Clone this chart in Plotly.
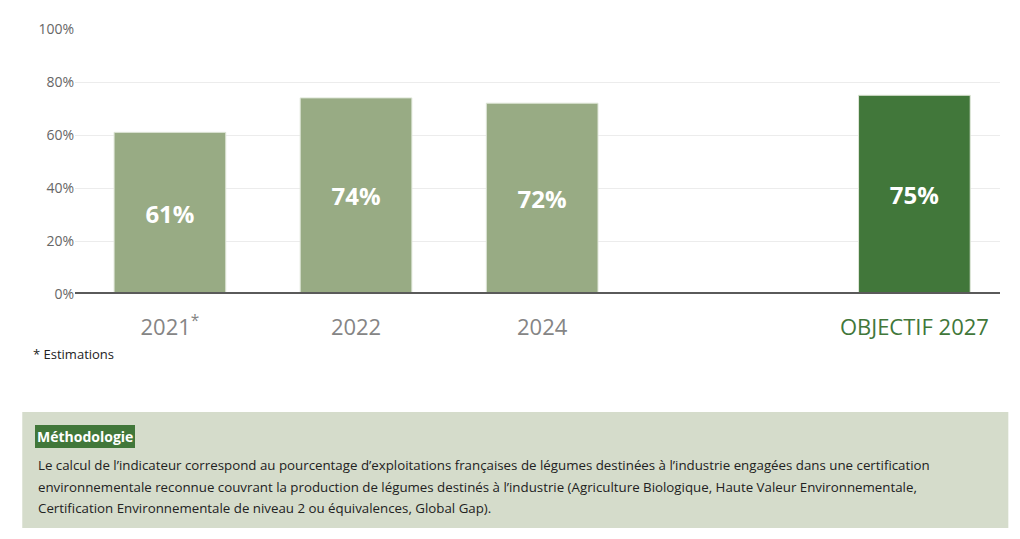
import plotly.graph_objects as go

positions = [0, 1, 2, 4]
tick_labels = ["2021<sup>*</sup>", "2022", "2024", "<span style='color:#41773a'>OBJECTIF 2027</span>"]
values = [61, 74, 72, 75]
bar_colors = ["#98ab84", "#98ab84", "#98ab84", "#41773a"]
y_ticks = [0, 20, 40, 60, 80, 100]
method_lines = [
    "Le calcul de l’indicateur correspond au pourcentage d’exploitations françaises de légumes destinées à l’industrie engagées dans une certification",
    "environnementale reconnue couvrant la production de légumes destinés à l’industrie (Agriculture Biologique, Haute Valeur Environnementale,",
    "Certification Environnementale de niveau 2 ou équivalences, Global Gap).",
]

fig = go.Figure(go.Bar(
    x=positions, y=values, width=0.6,
    marker=dict(color=bar_colors, line=dict(color="#dfe6d8", width=1)),
    text=[f"<b>{v}%</b>" for v in values], textposition="inside", insidetextanchor="middle",
    textfont=dict(family="Open Sans", size=24, color="white"),
))

# page body adds an 8px margin, so margins are reduced by 8
fig.update_layout(
    width=1020, height=539, plot_bgcolor="white", paper_bgcolor="white",
    margin=dict(l=67, r=28, t=21, b=253, autoexpand=False), showlegend=False,
    font=dict(family="Open Sans"),
    xaxis=dict(range=[-0.51, 4.46], tickvals=positions, ticktext=tick_labels,
               showgrid=False, zeroline=False, ticks="", ticklen=0,
               ticklabelstandoff=18,
               tickfont=dict(size=22, color="#858585")),
    yaxis=dict(range=[0, 100], tickvals=y_ticks, ticktext=[f"{v}%" for v in y_ticks],
               gridcolor="#ececec", zeroline=False,
               tickfont=dict(size=14, color="#666")),
)
fig.add_shape(type="line", xref="paper", yref="y", x0=0, x1=1, y0=0, y1=0,
              line=dict(color="#5a5a5a", width=4))
fig.add_shape(type="rect", xref="paper", yref="paper", x0=-0.057, x1=1.009,
              y0=-0.883, y1=-0.445, fillcolor="#d5dccb", line_width=0, layer="below")
fig.add_annotation(xref="paper", yref="paper", x=-0.048, y=-0.268, xanchor="left",
                   text="* Estimations", showarrow=False,
                   font=dict(size=13, color="#222"))
fig.add_annotation(xref="paper", yref="paper", x=-0.043, y=-0.58, xanchor="left",
                   text="<b>Méthodologie</b>", showarrow=False, bgcolor="#41773a",
                   bordercolor="#41773a", borderpad=1,
                   font=dict(size=14, color="white"))
for i, line in enumerate(method_lines):
    fig.add_annotation(xref="paper", yref="paper", x=-0.042, y=[-0.685, -0.768, -0.848][i],
                       xanchor="left", align="left", showarrow=False,
                       font=dict(size=13.3, color="#222"), text=line)
fig.write_html("out.html")
